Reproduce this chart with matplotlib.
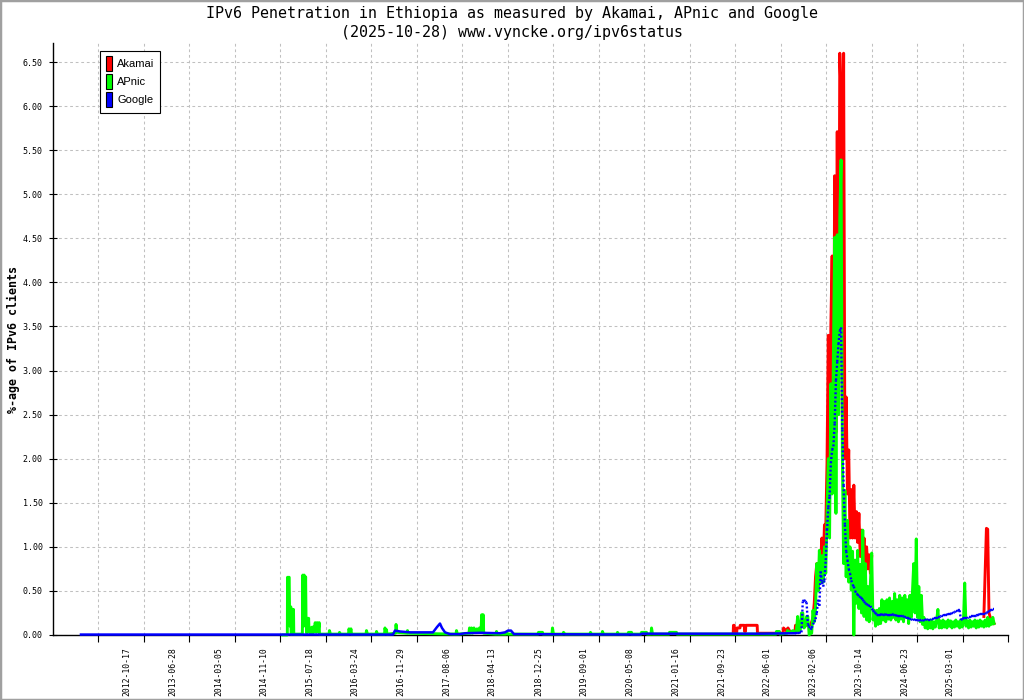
import numpy as np
import pandas as pd
import matplotlib
matplotlib.use("Agg")
import matplotlib.pyplot as plt
from matplotlib.patches import Patch, Rectangle
from matplotlib.collections import LineCollection

plt.rcParams["lines.scale_dashes"] = False

# ---------------- data ----------------
title_line1 = "IPv6 Penetration in Ethiopia as measured by Akamai, APnic and Google"
title_line2 = "(2025-10-28) www.vyncke.org/ipv6status"
y_label = "%-age of IPv6 clients"
series_names = ["Akamai", "APnic", "Google"]
series_colors = ["#ff0000", "#00ff00", "#0000ff"]

tick_dates = ["2012-10-17", "2013-06-28", "2014-03-05", "2014-11-10", "2015-07-18",
              "2016-03-24", "2016-11-29", "2017-08-06", "2018-04-13", "2018-12-25",
              "2019-09-01", "2020-05-08", "2021-01-16", "2021-09-23", "2022-06-01",
              "2023-02-06", "2023-10-14", "2024-06-23", "2025-03-01"]
y_ticks = [0.0, 0.5, 1.0, 1.5, 2.0, 2.5, 3.0, 3.5, 4.0, 4.5, 5.0, 5.5, 6.0, 6.5]

# early, sparse readings (decimal year, percent)
google_early_t = [2012.105, 2016.792, 2016.822, 2016.898, 2017.048, 2017.273, 2017.393,
                  2017.423, 2017.453, 2017.498, 2017.528, 2017.574, 2017.649, 2017.799,
                  2017.874, 2018.099, 2018.400, 2018.475, 2018.520, 2018.565, 2018.610,
                  2020.503, 2020.533, 2021.404, 2022.305, 2022.831]
google_early_v = [0.005, 0.005, 0.05, 0.04, 0.03, 0.03, 0.03,
                  0.06, 0.09, 0.13, 0.08, 0.03, 0.01, 0.01,
                  0.02, 0.025, 0.02, 0.03, 0.05, 0.05, 0.01,
                  0.005, 0.015, 0.015, 0.015, 0.02]

apnic_early_t = [2015.140, 2015.205, 2015.208, 2015.220, 2015.224, 2015.233, 2015.238,
                 2015.248, 2015.257, 2015.262, 2015.275, 2015.278, 2015.287, 2015.298,
                 2015.302, 2015.431, 2015.437, 2015.449, 2015.458, 2015.469, 2015.480,
                 2015.487, 2015.497, 2015.505, 2015.515, 2015.525, 2015.530, 2015.546,
                 2015.558, 2015.564, 2015.579, 2015.591, 2015.600, 2015.606, 2015.624,
                 2015.639, 2015.654, 2015.669, 2015.684, 2015.688,
                 2015.831, 2015.838, 2015.853,
                 2015.981, 2015.989, 2016.004,
                 2016.124, 2016.131, 2016.146, 2016.161, 2016.169,
                 2016.387, 2016.394, 2016.409,
                 2016.537, 2016.545, 2016.560,
                 2016.665, 2016.672, 2016.687, 2016.695, 2016.702,
                 2016.830, 2016.838, 2016.852,
                 2017.003, 2017.010, 2017.025,
                 2017.739, 2017.746, 2017.761,
                 2017.934, 2017.942, 2017.957, 2017.972, 2017.987, 2018.009, 2018.024,
                 2018.054, 2018.069, 2018.092, 2018.114, 2018.125, 2018.137, 2018.147,
                 2018.155,
                 2018.340, 2018.347, 2018.362,
                 2018.490, 2018.497, 2018.520,
                 2018.971, 2018.978, 2019.038, 2019.046,
                 2019.181, 2019.188, 2019.203,
                 2019.346, 2019.354, 2019.376,
                 2019.752, 2019.759, 2019.774,
                 2019.932, 2019.939, 2019.955,
                 2020.157, 2020.165, 2020.180,
                 2020.323, 2020.330, 2020.375, 2020.383,
                 2020.518, 2020.525, 2020.601, 2020.608,
                 2020.668, 2020.676, 2020.691,
                 2020.938, 2020.946, 2021.051, 2021.059,
                 2022.546, 2022.553, 2022.598, 2022.606,
                 2022.711, 2022.719, 2022.756, 2022.801, 2022.831]
apnic_early_v = [0.0, 0.0, 0.655, 0.2, 0.655, 0.655, 0.32,
                 0.1, 0.32, 0.01, 0.01, 0.29, 0.05, 0.29,
                 0.01, 0.01, 0.68, 0.1, 0.68, 0.2, 0.66,
                 0.13, 0.02, 0.19, 0.05, 0.19, 0.08, 0.02,
                 0.08, 0.03, 0.09, 0.02, 0.09, 0.04, 0.14,
                 0.03, 0.14, 0.04, 0.14, 0.01,
                 0.01, 0.05, 0.01,
                 0.01, 0.03, 0.01,
                 0.01, 0.07, 0.02, 0.07, 0.01,
                 0.01, 0.05, 0.01,
                 0.01, 0.04, 0.01,
                 0.01, 0.08, 0.02, 0.06, 0.01,
                 0.02, 0.12, 0.03,
                 0.02, 0.05, 0.02,
                 0.01, 0.05, 0.01,
                 0.02, 0.08, 0.02, 0.08, 0.02, 0.08, 0.03,
                 0.07, 0.03, 0.08, 0.03, 0.23, 0.05, 0.23,
                 0.02,
                 0.01, 0.04, 0.01,
                 0.01, 0.03, 0.01,
                 0.01, 0.03, 0.03, 0.01,
                 0.01, 0.08, 0.01,
                 0.01, 0.03, 0.01,
                 0.01, 0.03, 0.01,
                 0.01, 0.04, 0.01,
                 0.01, 0.03, 0.01,
                 0.01, 0.03, 0.03, 0.01,
                 0.01, 0.03, 0.03, 0.01,
                 0.01, 0.08, 0.01,
                 0.01, 0.03, 0.03, 0.01,
                 0.01, 0.04, 0.04, 0.01,
                 0.02, 0.05, 0.03, 0.05, 0.03]

akamai_early_t = [2021.903, 2021.907, 2021.919, 2021.924, 2021.955, 2021.960, 2022.005,
                  2022.008, 2022.070, 2022.073, 2022.088, 2022.092, 2022.263, 2022.268,
                  2022.651, 2022.659, 2022.696, 2022.726, 2022.756, 2022.831, 2022.839]
akamai_early_v = [0.02, 0.11, 0.11, 0.02, 0.02, 0.08, 0.08,
                  0.11, 0.11, 0.04, 0.04, 0.11, 0.11, 0.02,
                  0.02, 0.08, 0.05, 0.08, 0.04, 0.04, 0.11]

# weekly readings from the start of the rise onwards
weekly_start = "2022-11-08"
akamai_weekly = ([0.11, 0.11, 0.11, 0.11, 0.10, 0.11, 0.11, 0.11, 0.11, 0.11, 0.11,
                  0.12, 0.15, 0.20, 0.36, 0.66, 0.81, 0.60, 0.81, 0.85, 1.10, 0.80, 1.25, 1.20,
                  1.95, 3.40, 2.00, 3.50, 4.30, 2.20, 5.21, 2.30, 5.71, 2.50, 6.60, 6.11,
                  2.50, 6.60, 2.00, 2.70,
                  1.60, 2.10, 1.10, 1.65, 1.10, 1.70, 1.10, 1.40, 1.05, 1.38, 0.89, 1.19,
                  0.89, 1.10, 0.80, 1.00, 0.75, 0.91, 0.70, 0.89]
                 + [None] * 87
                 + [0.21, 0.70, 1.21, 1.20, 0.25, 0.20, 0.17, 0.15, 0.13])
apnic_weekly = [0.05, 0.21, 0.03, 0.05, 0.25, 0.25, 0.08, 0.10, 0.21, 0.21,
                0.00, 0.02, 0.02, 0.28, 0.15, 0.30, 0.81, 0.50, 0.96, 0.60,
                0.90, 0.60, 1.00, 0.70, 1.35, 2.00, 1.10, 2.85, 1.60, 3.19,
                4.51, 1.38, 4.54, 2.50, 4.73, 5.39, 2.06, 0.81, 1.64, 0.66,
                1.30, 0.60, 1.00, 0.51, 0.95, 0.00, 0.85, 0.36, 0.96, 0.30,
                0.80, 0.25, 1.19, 0.21, 0.81, 0.17, 0.55, 0.15, 0.60, 0.93,
                0.17, 0.28, 0.10, 0.28, 0.12, 0.30, 0.13, 0.40, 0.17, 0.38,
                0.15, 0.40, 0.18, 0.42, 0.17, 0.38, 0.20, 0.47, 0.17, 0.40,
                0.15, 0.45, 0.18, 0.42, 0.15, 0.45, 0.20, 0.40, 0.13, 0.45,
                0.20, 0.49, 0.81, 0.25, 1.09, 0.20, 0.55, 0.15, 0.45, 0.12,
                0.20, 0.08, 0.17, 0.07, 0.16, 0.08, 0.17, 0.07, 0.15, 0.09,
                0.17, 0.29, 0.08, 0.16, 0.08, 0.17, 0.09, 0.15, 0.08, 0.17,
                0.10, 0.16, 0.08, 0.15, 0.09, 0.17, 0.10, 0.15, 0.08, 0.17,
                0.09, 0.15, 0.59, 0.10, 0.16, 0.08, 0.17, 0.09, 0.15, 0.10,
                0.17, 0.08, 0.16, 0.09, 0.17, 0.10, 0.15, 0.09, 0.17, 0.10,
                0.20, 0.10, 0.18, 0.12, 0.20, 0.13]
google_weekly = [0.02, 0.02, 0.02, 0.03, 0.03, 0.38, 0.40, 0.38, 0.37,
                 0.12, 0.10, 0.06, 0.08, 0.12, 0.15, 0.18, 0.25,
                 0.40, 0.33, 0.72, 0.60, 0.55, 0.62, 0.85,
                 1.19, 1.45, 1.57, 1.95, 2.10, 2.14, 2.40, 2.89, 3.10, 3.30, 3.45, 3.49,
                 2.33, 1.70, 1.25, 0.95, 0.85, 0.75, 0.70, 0.62, 0.57, 0.55, 0.50, 0.47,
                 0.46, 0.44, 0.43, 0.42, 0.40, 0.38, 0.36, 0.35, 0.34, 0.33, 0.33, 0.30,
                 0.28, 0.26, 0.25, 0.23, 0.22, 0.23, 0.23,
                 0.24, 0.22, 0.23, 0.24, 0.22, 0.23, 0.23, 0.22, 0.24, 0.23,
                 0.22, 0.23, 0.21, 0.22, 0.22, 0.21, 0.22, 0.21, 0.20,
                 0.20, 0.19, 0.19, 0.18, 0.18, 0.17, 0.18, 0.17, 0.17, 0.17, 0.16,
                 0.17, 0.17, 0.16, 0.17, 0.17, 0.18, 0.17, 0.17, 0.17,
                 0.18, 0.18, 0.19, 0.19, 0.19, 0.20, 0.20,
                 0.21, 0.22, 0.22, 0.23, 0.23, 0.23, 0.24, 0.24,
                 0.24, 0.25, 0.25, 0.26, 0.27, 0.27, 0.28, 0.28,
                 0.17, 0.18, 0.19, 0.19, 0.19, 0.19, 0.20, 0.20, 0.21, 0.21, 0.21, 0.21,
                 0.22, 0.23, 0.23, 0.24, 0.24, 0.24, 0.24, 0.24, 0.25, 0.26, 0.27, 0.28,
                 0.28, 0.29, 0.29]

x_range = (2011.685, 2026.031)
y_range = (0.0, 6.716)


# ---------------- helpers ----------------
def decimal_year(ts):
    ts = pd.Timestamp(ts)
    days = 366 if ts.is_leap_year else 365
    return ts.year + (ts.dayofyear - 1) / days


def weekly_years(n):
    return [decimal_year(d) for d in pd.date_range(weekly_start, periods=n, freq="7D")]


def full_series(early_t, early_v, weekly):
    t = np.array(list(early_t) + weekly_years(len(weekly)), dtype=float)
    v = np.array(list(early_v) + list(weekly), dtype=float)
    return t, v


akamai_t, akamai_v = full_series(akamai_early_t, akamai_early_v, akamai_weekly)
apnic_t, apnic_v = full_series(apnic_early_t, apnic_early_v, apnic_weekly)
google_t, google_v = full_series(google_early_t, google_early_v, google_weekly)

# ---------------- figure ----------------
W, H = 1024, 700
fig = plt.figure(figsize=(W / 100, H / 100), dpi=100, facecolor="white")
ax_l, ax_r, ax_b, ax_t = 53, 1008, 635, 43
ax = fig.add_axes([ax_l / W, 1 - ax_b / H, (ax_r - ax_l) / W, (ax_b - ax_t) / H])
ax.set_xlim(*x_range)
ax.set_ylim(*y_range)

grid_col = "#c0c0c0"
grid_ls = (0, (2.0, 2.0))

# vertical grid lines (evenly spaced) + tick marks
x_grid = np.linspace(x_range[0], x_range[1], 22)
for g in x_grid[1:-1]:
    ax.axvline(g, color=grid_col, lw=0.75, ls=grid_ls, zorder=0.5)
ax.set_xticks(x_grid[1:], minor=True)
ax.tick_params(axis="x", which="minor", direction="out", length=4.8, width=0.8,
               color="black")

# date labels at their dates
ax.set_xticks([decimal_year(d) for d in tick_dates])
ax.set_xticklabels(tick_dates, rotation=90, fontfamily="DejaVu Sans Mono", fontsize=5.9)
ax.tick_params(axis="x", which="major", length=0, pad=8.5)

ax.set_yticks(y_ticks)
ax.set_yticklabels([f"{v:.2f}" for v in y_ticks], fontfamily="DejaVu Sans Mono",
                   fontsize=6.0)
ax.tick_params(axis="y", direction="inout", length=5.8, width=0.8, pad=4.5)
ax.yaxis.grid(True, color=grid_col, lw=0.75, ls=grid_ls, zorder=0.5)
ax.set_axisbelow(True)

for s in ["top", "right"]:
    ax.spines[s].set_visible(False)
for s in ["left", "bottom"]:
    ax.spines[s].set_linewidth(1.0)
    ax.spines[s].set_color("black")

# series
ax.plot(akamai_t, akamai_v, color=series_colors[0], lw=2.1, zorder=3, clip_on=False)
ax.plot(apnic_t, apnic_v, color=series_colors[1], lw=2.1, zorder=4, clip_on=False)

n_early = len(google_early_t)
ax.plot(google_t[:n_early], google_v[:n_early], color=series_colors[2], lw=1.8,
        zorder=5, clip_on=False)
pts = np.column_stack([google_t[n_early - 1:], google_v[n_early - 1:]])
segs = np.stack([pts[:-1], pts[1:]], axis=1)
lc = LineCollection(segs, colors=series_colors[2], linewidths=1.7,
                    linestyles=[(0, (1.4, 1.6))], zorder=5, clip_on=False)
lc.set_capstyle("butt")
ax.add_collection(lc)

# legend
handles = [Patch(facecolor=c, edgecolor="black", linewidth=0.8) for c in series_colors]
leg = ax.legend(handles, series_names, loc="upper left",
                bbox_to_anchor=(100 / W, 1 - 50.5 / H), bbox_transform=fig.transFigure,
                borderaxespad=0, fancybox=False, framealpha=1, edgecolor="black",
                borderpad=0.5, handlelength=0.6, handleheight=1.75, handletextpad=0.45,
                labelspacing=0.22, prop={"family": "Liberation Sans", "size": 8})
leg.get_frame().set_linewidth(0.8)
leg.set_zorder(10)

# titles and axis label
fig.text(0.5, 1 - 13.5 / H, title_line1, ha="center", va="center",
         family="DejaVu Sans Mono", fontsize=10.8)
fig.text(0.5, 1 - 32.5 / H, title_line2, ha="center", va="center",
         family="DejaVu Sans Mono", fontsize=10.8)
fig.text(13 / W, 1 - 339.5 / H, y_label, rotation=90, ha="center", va="center",
         family="DejaVu Sans Mono", fontweight="bold", fontsize=8.4)

# image frame
fig.patches.append(Rectangle((0, 0), 1, 1, transform=fig.transFigure, fill=False,
                             edgecolor="#a0a0a0", linewidth=2.5))

fig.savefig("out.png", dpi=100, facecolor="white")
